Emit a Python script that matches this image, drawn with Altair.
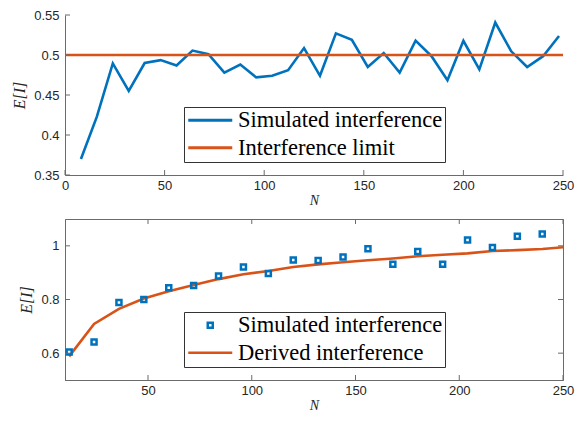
import altair as alt
import pandas as pd

BLUE = "#0072BD"
ORANGE = "#D95319"
GRAY = "#6b6b6b"
TXT = "#262626"

SIM = "Simulated interference"
LIM = "Interference limit"
DER = "Derived interference"

# ---- top panel data ----
top_N = [8, 16, 24, 32, 40, 48, 56, 64, 72, 80, 88, 96, 104, 112, 120, 128,
         136, 144, 152, 160, 168, 176, 184, 192, 200, 208, 216, 224, 232, 240, 248]
top_sim = [0.370, 0.423, 0.4895, 0.455, 0.490, 0.4936, 0.487, 0.5055, 0.501, 0.478,
           0.488, 0.472, 0.474, 0.481, 0.5087, 0.474, 0.527, 0.519, 0.485, 0.5025,
           0.478, 0.518, 0.4985, 0.4686, 0.5177, 0.482, 0.5406, 0.5046, 0.485, 0.4985, 0.5238]
limit_N = [0, 250]
limit_val = [0.5, 0.5]
top_xticks = [0, 50, 100, 150, 200, 250]
top_yticks = [0.35, 0.4, 0.45, 0.5, 0.55]

# ---- bottom panel data ----
bot_N = [12, 24, 36, 48, 60, 72, 84, 96, 108, 120, 132, 144, 156, 168, 180, 192, 204, 216, 228, 240]
bot_sim = [0.604, 0.642, 0.789, 0.800, 0.844, 0.852, 0.888, 0.921, 0.897, 0.947,
           0.945, 0.958, 0.989, 0.931, 0.979, 0.931, 1.022, 0.994, 1.036, 1.044]
der_N = [12, 24, 36, 48, 60, 72, 84, 96, 108, 120, 132, 144, 156, 168, 180, 192, 204, 216, 228, 240, 250]
der_val = [0.588, 0.709, 0.765, 0.804, 0.831, 0.854, 0.876, 0.894, 0.906, 0.921, 0.931,
           0.939, 0.946, 0.953, 0.961, 0.967, 0.972, 0.981, 0.984, 0.988, 0.995]
bot_xticks = [50, 100, 150, 200, 250]
bot_yticks = [0.6, 0.8, 1.0]

W, H1, H2 = 498, 160, 161
LINE_PATH = "M-4,0H4"
SQ_PATH = "M-0.4545,-0.4545H0.4545V0.4545H-0.4545Z"


def xaxis(vals):
    return alt.Axis(values=vals, title="N", ticks=False, grid=False, domainColor=GRAY,
                    domainWidth=1, format="d", labelFlush=False, labelOverlap=False,
                    labelFont="Liberation Sans", labelFontSize=13, labelColor=TXT,
                    labelPadding=4, titleFont="Liberation Serif", titleFontSize=14,
                    titleFontStyle="italic", titleFontWeight="normal", titleColor=TXT,
                    titlePadding=1)


def yaxis(vals):
    return alt.Axis(values=vals, title="E[I]", ticks=False, grid=False, domainColor=GRAY,
                    domainWidth=1, format="~g", labelFlush=False, labelOverlap=False,
                    labelFont="Liberation Sans", labelFontSize=13, labelColor=TXT,
                    labelPadding=6, titleFont="Liberation Serif", titleFontSize=16,
                    titleFontStyle="italic", titleFontWeight="normal", titleColor=TXT,
                    titlePadding=6)


def leg(x, y, sw):
    return alt.Legend(title=None, orient="none", legendX=x, legendY=y,
                      symbolType=LINE_PATH, symbolSize=121, symbolStrokeWidth=sw,
                      symbolOffset=13, labelOffset=16.5, labelFont="Liberation Serif",
                      labelFontSize=22.5, labelColor="black", labelLimit=400,
                      strokeColor="#333333", fillColor="white", padding=2, rowPadding=4.4)


# ---------------- top ----------------
xs_top = alt.Scale(domain=[0, 250], nice=False, zero=False)
ys_top = alt.Scale(domain=[0.35, 0.55], nice=False, zero=False)
col_top = alt.Scale(domain=[SIM, LIM], range=[BLUE, ORANGE])
leg_top = leg(119, 92, 3)
ax_xt = xaxis(top_xticks)
ax_yt = yaxis(top_yticks)

df_top = pd.DataFrame({"N": top_N, "E": top_sim, "series": SIM})
df_lim = pd.DataFrame({"N": limit_N, "E": limit_val, "series": LIM})

enc_top = dict(
    x=alt.X("N:Q", scale=xs_top, axis=ax_xt),
    y=alt.Y("E:Q", scale=ys_top, axis=ax_yt),
    color=alt.Color("series:N", scale=col_top, legend=leg_top),
)
sim_line = alt.Chart(df_top).mark_line(strokeWidth=2.6).encode(**enc_top)
lim_line = alt.Chart(df_lim).mark_line(strokeWidth=2.6).encode(**enc_top)

ytick_top = alt.Chart(pd.DataFrame({"E": top_yticks})).mark_rule(color=GRAY, strokeWidth=1).encode(
    y=alt.Y("E:Q", scale=ys_top, axis=ax_yt), x=alt.value(0), x2=alt.value(5))
xtick_top = alt.Chart(pd.DataFrame({"N": top_xticks})).mark_rule(color=GRAY, strokeWidth=1).encode(
    x=alt.X("N:Q", scale=xs_top, axis=ax_xt), y=alt.value(H1), y2=alt.value(H1 - 5))

top = alt.layer(sim_line, lim_line, ytick_top, xtick_top).properties(
    width=W, height=H1, view=alt.ViewBackground(stroke="transparent"))

# ---------------- bottom ----------------
xs_bot = alt.Scale(domain=[10, 250], nice=False, zero=False)
ys_bot = alt.Scale(domain=[0.5, 1.1], nice=False, zero=False)
col_bot = alt.Scale(domain=[SIM, DER], range=[BLUE, ORANGE])
shape_bot = alt.Scale(domain=[SIM, DER], range=[SQ_PATH, LINE_PATH])
leg_bot = leg(119, 93, 2.5)
ax_xb = xaxis(bot_xticks)
ax_yb = yaxis(bot_yticks)

df_bs = pd.DataFrame({"N": bot_N, "E": bot_sim, "series": SIM})
df_der = pd.DataFrame({"N": der_N, "E": der_val, "series": DER})

xb = alt.X("N:Q", scale=xs_bot, axis=ax_xb)
yb = alt.Y("E:Q", scale=ys_bot, axis=ax_yb)

pts = alt.Chart(df_bs).mark_point(filled=False, size=121, strokeWidth=2.5, opacity=1).encode(
    x=xb, y=yb,
    color=alt.Color("series:N", scale=col_bot, legend=leg_bot),
    shape=alt.Shape("series:N", scale=shape_bot, legend=leg_bot),
)
der_line = alt.Chart(df_der).mark_line(strokeWidth=2.6).encode(
    x=xb, y=yb, color=alt.Color("series:N", scale=col_bot, legend=leg_bot))

ytl = alt.Chart(pd.DataFrame({"E": bot_yticks})).mark_rule(color=GRAY, strokeWidth=1).encode(
    y=yb, x=alt.value(0), x2=alt.value(5))
ytr = alt.Chart(pd.DataFrame({"E": bot_yticks})).mark_rule(color=GRAY, strokeWidth=1).encode(
    y=yb, x=alt.value(W), x2=alt.value(W - 5))
xtb = alt.Chart(pd.DataFrame({"N": bot_xticks})).mark_rule(color=GRAY, strokeWidth=1).encode(
    x=xb, y=alt.value(H2), y2=alt.value(H2 - 5))
xtt = alt.Chart(pd.DataFrame({"N": bot_xticks})).mark_rule(color=GRAY, strokeWidth=1).encode(
    x=xb, y=alt.value(0), y2=alt.value(5))

bottom = alt.layer(der_line, pts, ytl, ytr, xtb, xtt).properties(
    width=W, height=H2, view=alt.ViewBackground(stroke=GRAY, strokeWidth=1))

chart = alt.vconcat(top, bottom, spacing=10).resolve_scale(
    x="independent", y="independent", color="independent", shape="independent"
).resolve_legend(color="independent", shape="independent").properties(
    padding={"left": 3, "top": 0, "right": 0, "bottom": 0}, background="white")

chart.save("out.html", embed_options={"renderer": "svg", "actions": False})
